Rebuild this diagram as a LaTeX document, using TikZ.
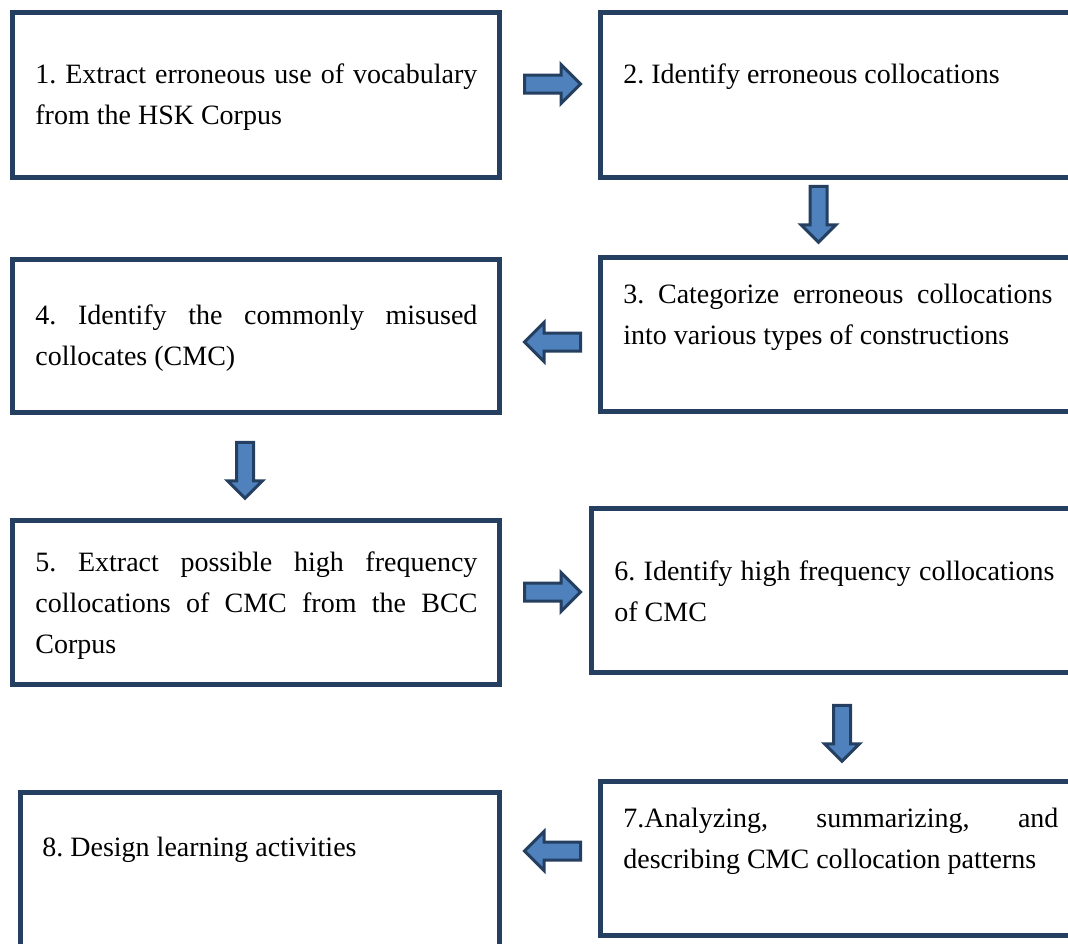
\documentclass[tikz,border=0pt]{standalone}
\usepackage{fontspec}
\setmainfont{Liberation Serif}
\usetikzlibrary{shapes.arrows}
\definecolor{navy}{RGB}{36,63,96}
\definecolor{steel}{RGB}{79,129,189}
\hyphenpenalty=10000
\exhyphenpenalty=10000
\frenchspacing
\tikzset{
  box/.style={draw=navy, line width=2.5pt, anchor=north west, inner sep=0pt,
    outer sep=0pt},
  txt/.style={anchor=base west, inner sep=0pt, align=justify,
    font=\fontsize{14pt}{20.5pt}\selectfont},
  blockarrow/.style={single arrow, draw=navy, fill=steel, line width=1.5pt,
    inner xsep=0pt, inner ysep=3.75pt, minimum height=28pt,
    single arrow head extend=5.25pt},
  downarrow/.style={blockarrow, shape border rotate=270,
    inner xsep=3.5pt, inner ysep=0pt, single arrow head extend=4.5pt},
  leftarrow/.style={blockarrow, shape border rotate=180}
}
\begin{document}
\begin{tikzpicture}[x=0.5pt, y=-0.5pt]
\useasboundingbox (0,0) rectangle (1068,943);

% Boxes (right-hand column runs past the page edge)
\node[box, minimum width=243.5pt, minimum height=82.5pt] (b1) at (12.5,12.5) {};
\node[box, minimum width=249.75pt, minimum height=82.5pt] (b2) at (600.5,12.5) {};
\node[box, minimum width=249.75pt, minimum height=77pt] (b3) at (600.5,257.5) {};
\node[box, minimum width=243.5pt, minimum height=76.5pt] (b4) at (12.5,259.5) {};
\node[box, minimum width=243.5pt, minimum height=82pt] (b5) at (12.5,520.5) {};
\node[box, minimum width=254.25pt, minimum height=82pt] (b6) at (591.5,508.5) {};
\node[box, minimum width=249.75pt, minimum height=77pt] (b7) at (600.5,781.5) {};
\node[box, minimum width=239.75pt, minimum height=103.75pt] (b8) at (20,792.5) {};

% Texts
\node[txt, text width=221pt] (t1) at (35,83)
  {1. Extract erroneous use of vocabulary from the HSK Corpus};
\node[txt, text width=214.5pt] (t2) at (623,83)
  {2. Identify erroneous collocations};
\node[txt, text width=214.5pt] (t3) at (623,303)
  {3. Categorize erroneous collocations into various types of constructions};
\node[txt, text width=221pt] (t4) at (35,324)
  {4. Identify the commonly misused collocates (CMC)};
\node[txt, text width=221pt] (t5) at (35,571)
  {5. Extract possible high frequency collocations of CMC from the BCC Corpus};
\node[txt, text width=220pt] (t6) at (614,580)
  {6. Identify high frequency collocations of CMC};
\node[txt, text width=217.5pt] (t7) at (623,827)
  {7.Analyzing, summarizing, and describing CMC collocation patterns};
\node[txt, text width=221pt] (t8) at (42,856)
  {8. Design learning activities};

% Block arrows between the steps
\node[blockarrow] (a12) at (548,84) {};
\node[downarrow] (a23) at (818.5,210) {};
\node[leftarrow] (a34) at (557,342) {};
\node[downarrow] (a45) at (245,466) {};
\node[blockarrow] (a56) at (548,592) {};
\node[downarrow] (a67) at (842,729) {};
\node[leftarrow] (a78) at (557,851) {};
\end{tikzpicture}
\end{document}
